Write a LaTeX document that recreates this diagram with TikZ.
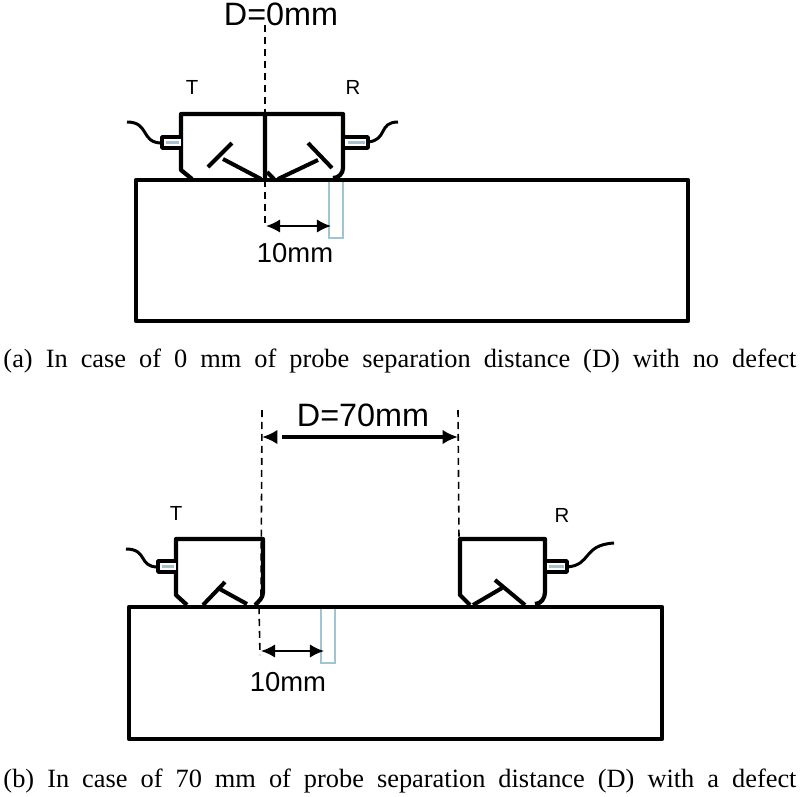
\documentclass[tikz,border=0pt]{standalone}
\usepackage{fontspec}
\setmainfont{Liberation Sans}
\newfontfamily\capfont{Liberation Serif}
\usetikzlibrary{arrows.meta}
\tikzset{
	body/.style={line width=1.2pt,line join=round},
	wedge/.style={line width=1.15pt},
	lead/.style={line width=0.85pt},
	plug/.style={line width=1pt,line join=round,fill=white},
	window/.style={line width=0.5pt,color=cyan!25!lightgray},
	guide/.style={line width=0.45pt,dash pattern=on 2pt off 1.4pt},
	smallarrow/.style={line width=0.55pt,{Latex[length=4pt,width=3.8pt]}-{Latex[length=4pt,width=3.8pt]}},
	bigarrow/.style={line width=1.3pt,-{Latex[length=4.4pt,width=4.2pt]}},
	probename/.style={font=\fontsize{5.8}{6}\selectfont},
	sizename/.style={font=\fontsize{7.8}{9}\selectfont},
	distname/.style={font=\fontsize{9.2}{11}\selectfont},
	caption/.style={font=\fontsize{7.5}{9}\capfont,anchor=base,inner sep=0pt}
}
\begin{document}
\begin{tikzpicture}[x=0.01cm,y=-0.01cm]
	\useasboundingbox (0,0) rectangle (800,796);

	%TOP SPECIMEN
	\draw[window] (329,181) -- (329,238) -- (343,238) -- (343,181);
	\draw[body] (136,180) rectangle (688,321);

	%TOP PROBES
	\draw[body] (265,178) -- (265,114) -- (181,114) -- (181,170) -- (192,179);
	\draw[body] (265,114) -- (343,114) -- (343,168) to[out=270,in=0] (333,178);
	\draw[wedge] (208,167) -- (232,143);
	\draw[wedge] (223,159) -- (261,179);
	\draw[wedge] (308,143) -- (332,168);
	\draw[wedge] (318,160) -- (278,179);
	\draw[wedge] (267,172) -- (274,179);

	%TOP LEADS
	\draw[plug] (181,137) -- (162,137) -- (162,148) -- (181,148);
	\draw[window,line width=0.6pt] (166,142.5) -- (179,142.5);
	\draw[lead] (162,143) .. controls (140,143) and (150,122) .. (127,122);
	\draw[plug] (345,137) -- (368,137) -- (368,148) -- (345,148);
	\draw[window,line width=0.6pt] (348,142.5) -- (365,142.5);
	\draw[lead] (368,142) .. controls (388,140) and (378,122) .. (398,122);

	%TOP DIMENSIONS
	\coordinate (guideAtop) at (265,25);
	\coordinate (guideAbot) at (265,228);
	\coordinate (sizeAleft) at (266,226);
	\coordinate (sizeAright) at (331,226);
	\draw[guide] (guideAtop) -- (guideAbot);
	\draw[smallarrow] (sizeAleft) -- (sizeAright);

	%TOP LABELS
	\node[distname] (distA) at (281,14) {D=0mm};
	\node[probename] (probeAT) at (192,87) {T};
	\node[probename] (probeAR) at (353,87) {R};
	\node[sizename] (sizeA) at (295,253) {10mm};
	\node[caption] (capA) at (400,367) {\makebox[225.5pt][s]{(a) In case of 0 mm of probe separation distance (D) with no defect}};

	%BOTTOM SPECIMEN
	\draw[window] (321,609) -- (321,663) -- (335,663) -- (335,609);
	\draw[body] (129,607) rectangle (662,739);

	%BOTTOM PROBES
	\draw[body] (187,605) -- (176,595) -- (176,539) -- (263,539) -- (263,592) to[out=270,in=45] (255,605);
	\draw[body] (470,605) -- (460,595) -- (460,539) -- (545,539) -- (545,592) to[out=270,in=0] (535,604);
	\draw[wedge] (203,605) -- (225,582);
	\draw[wedge] (218,588) -- (247,604);
	\draw[wedge] (495,580) -- (525,605);
	\draw[wedge] (502,588) -- (473,605);

	%BOTTOM LEADS
	\draw[plug] (176,561) -- (158,561) -- (158,572) -- (176,572);
	\draw[window,line width=0.6pt] (162,566.5) -- (174,566.5);
	\draw[lead] (158,567) .. controls (138,567) and (148,549) .. (126,549);
	\draw[plug] (547,561) -- (567,561) -- (567,572) -- (547,572);
	\draw[window,line width=0.6pt] (549,566.5) -- (564,566.5);
	\draw[lead] (567,567) .. controls (592,565) and (582,545) .. (614,543);

	%BOTTOM DIMENSIONS
	\coordinate (guideBtop) at (262,410);
	\coordinate (guideBmid) at (261,596);
	\coordinate (guideBlow) at (259,607);
	\coordinate (guideBbot) at (260,655);
	\coordinate (guideCtop) at (458,410);
	\coordinate (guideCbot) at (459,539);
	\coordinate (distBleft) at (282,437);
	\coordinate (distBtip) at (262,437);
	\coordinate (distBstart) at (276,437);
	\coordinate (distBright) at (458,437);
	\coordinate (sizeBleft) at (261,651);
	\coordinate (sizeBright) at (324,651);
	\draw[guide] (guideBtop) -- (guideBmid);
	\draw[guide] (guideBlow) -- (guideBbot);
	\draw[guide] (guideCtop) -- (guideCbot);
	\draw[bigarrow] (distBleft) -- (distBright);
	\draw[bigarrow] (distBstart) -- (distBtip);
	\draw[smallarrow] (sizeBleft) -- (sizeBright);

	%BOTTOM LABELS
	\node[distname] (distB) at (363,415) {D=70mm};
	\node[probename] (probeBT) at (176,513) {T};
	\node[probename] (probeBR) at (562,515) {R};
	\node[sizename] (sizeB) at (288,682) {10mm};
	\node[caption] (capB) at (400,787) {\makebox[225.5pt][s]{(b) In case of 70 mm of probe separation distance (D) with a defect}};
\end{tikzpicture}
\end{document}
